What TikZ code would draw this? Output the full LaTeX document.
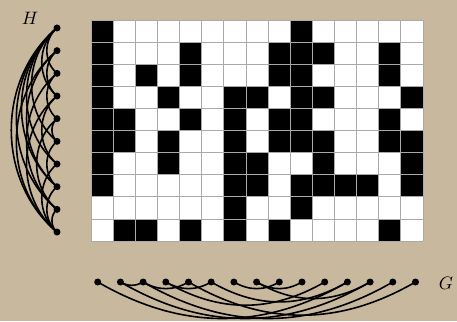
\documentclass[tikz,border=0pt]{standalone}
\begin{document}
\begin{tikzpicture}[x=1pt,y=-1pt,
  vtx/.style={circle,fill=black,inner sep=0pt,minimum size=7pt},
  hedge/.style={line width=1.6pt,bend right=50},
  gedge/.style={line width=1.6pt,bend right=30},
  blk/.style={fill=black},
  lbl/.style={scale=1.8}]
\definecolor{bg}{RGB}{200,184,158}
\definecolor{gridc}{RGB}{170,170,170}
\fill[bg] (0,0) rectangle (457,321);
\useasboundingbox (0,0) rectangle (457,321);
% grid
\def\cw{22.13}
\def\ch{22.1}
\fill[white] (91,20) rectangle (423,241);
\foreach \r/\row in {0/{0,9},1/{0,4,8,9,10,13},2/{0,2,4,8,9,13},3/{0,3,6,7,9,10,14},4/{0,1,4,6,8,9,13},5/{0,1,3,6,8,9,10,13,14},6/{0,3,6,7,10,14},7/{0,6,7,9,10,11,12,14},8/{6,9},9/{1,2,4,6,8,13}}{
  \foreach \c in \row {
    \fill[black] (91+\c*\cw,20+\r*\ch) rectangle (91+\c*\cw+\cw,20+\r*\ch+\ch);
  }
}
\foreach \i in {0,...,15} \draw[gridc,line width=0.8pt] (91+\i*\cw,20) -- (91+\i*\cw,241);
\foreach \j in {0,...,10} \draw[gridc,line width=0.8pt] (91,20+\j*\ch) -- (423,20+\j*\ch);
% H vertices
\foreach \i in {1,...,10} \node[vtx] (h\i) at (57,{28+(\i-1)*22.67}) {};
\node[lbl] (Hl) at (30,18) {$H$};
% G vertices
\foreach \j in {1,...,15} \node[vtx] (g\j) at ({97.7+(\j-1)*22.7},282) {};
\node[lbl] (Gl) at (446,283) {$G$};
% H edges
\foreach \a/\b in {1/10,1/9,1/8,1/7,1/6,1/4,1/3,2/10,2/8,2/4,3/9,3/5,4/7,4/10,5/6,5/9,6/8,7/10,8/10,9/10}
  \draw[hedge] (h\a.center) to (h\b.center);
% G edges
\foreach \a/\b in {1/12,2/3,2/13,3/5,3/14,4/6,4/11,5/15,7/9,8/13,8/10,6/12}
  \draw[gedge] (g\a.center) to (g\b.center);
\end{tikzpicture}
\end{document}
